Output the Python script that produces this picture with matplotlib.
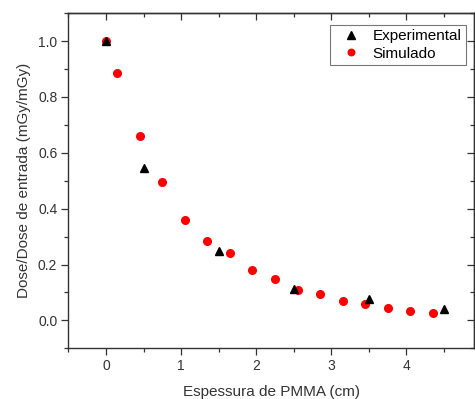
import matplotlib
matplotlib.use("Agg")
import matplotlib.pyplot as plt
from matplotlib.ticker import MultipleLocator, NullFormatter

plt.rcParams['font.family'] = ['Liberation Sans', 'DejaVu Sans']

exp_x = [0.0, 0.5, 1.5, 2.5, 3.5, 4.5]
exp_y = [1.0, 0.544, 0.25, 0.112, 0.078, 0.04]

sim_x = [0.0, 0.15, 0.45, 0.75, 1.05, 1.35, 1.65, 1.95, 2.25, 2.55, 2.85, 3.15, 3.45, 3.75, 4.05, 4.35]
sim_y = [1.0, 0.885, 0.66, 0.495, 0.358, 0.284, 0.241, 0.179, 0.149, 0.109, 0.096, 0.068, 0.060, 0.045, 0.033, 0.027]

x_ticks = [0, 1, 2, 3, 4]
y_ticks = [0.0, 0.2, 0.4, 0.6, 0.8, 1.0]

fig = plt.figure(figsize=(4.75, 3.99), dpi=100)
ax = fig.add_axes([0.144, 0.127, 0.854, 0.840])

ax.plot(exp_x, exp_y, linestyle='none', marker='^', color='black', markersize=6, label='Experimental', zorder=3)
ax.plot(sim_x, sim_y, linestyle='none', marker='o', color='#ff0000', markersize=5.5, label='Simulado', zorder=2)

ax.set_xlim(-0.5, 4.9)
ax.set_ylim(-0.1, 1.1)
ax.set_xticks(x_ticks)
ax.set_yticks(y_ticks)
ax.set_yticklabels([f"{v:.1f}" for v in y_ticks])
ax.xaxis.set_minor_locator(MultipleLocator(0.5))
ax.yaxis.set_minor_locator(MultipleLocator(0.1))

tc = '#333333'
ax.tick_params(axis='both', which='both', direction='out', labelsize=10, colors=tc, length=5, width=0.9, pad=3)
ax.tick_params(axis='both', which='minor', length=3)

secx = ax.secondary_xaxis('top')
secx.set_xticks(x_ticks)
secx.xaxis.set_minor_locator(MultipleLocator(0.5))
secx.xaxis.set_major_formatter(NullFormatter())
secx.tick_params(axis='x', which='both', direction='in', colors=tc, length=5, width=0.9)
secx.tick_params(axis='x', which='minor', length=3)

secy = ax.secondary_yaxis('right')
secy.set_yticks(y_ticks)
secy.yaxis.set_minor_locator(MultipleLocator(0.1))
secy.yaxis.set_major_formatter(NullFormatter())
secy.tick_params(axis='y', which='both', direction='in', colors=tc, length=5, width=0.9)
secy.tick_params(axis='y', which='minor', length=3)

for a in (ax, secx, secy):
    for s in a.spines.values():
        s.set_linewidth(1.0)
        s.set_color(tc)

ax.set_xlabel('Espessura de PMMA (cm)', fontsize=11, color=tc, labelpad=8)
ax.set_ylabel('Dose/Dose de entrada (mGy/mGy)', fontsize=11, color=tc, labelpad=5)

leg = ax.legend(loc='upper right', fontsize=11, frameon=True, fancybox=False,
                edgecolor='#555555', handlelength=2.2, handletextpad=0.3,
                borderpad=0.3, labelspacing=0.2, borderaxespad=0, markerscale=0.85,
                bbox_to_anchor=(0.98, 0.965))
leg.get_frame().set_linewidth(0.8)

fig.savefig('out.png', dpi=100)
